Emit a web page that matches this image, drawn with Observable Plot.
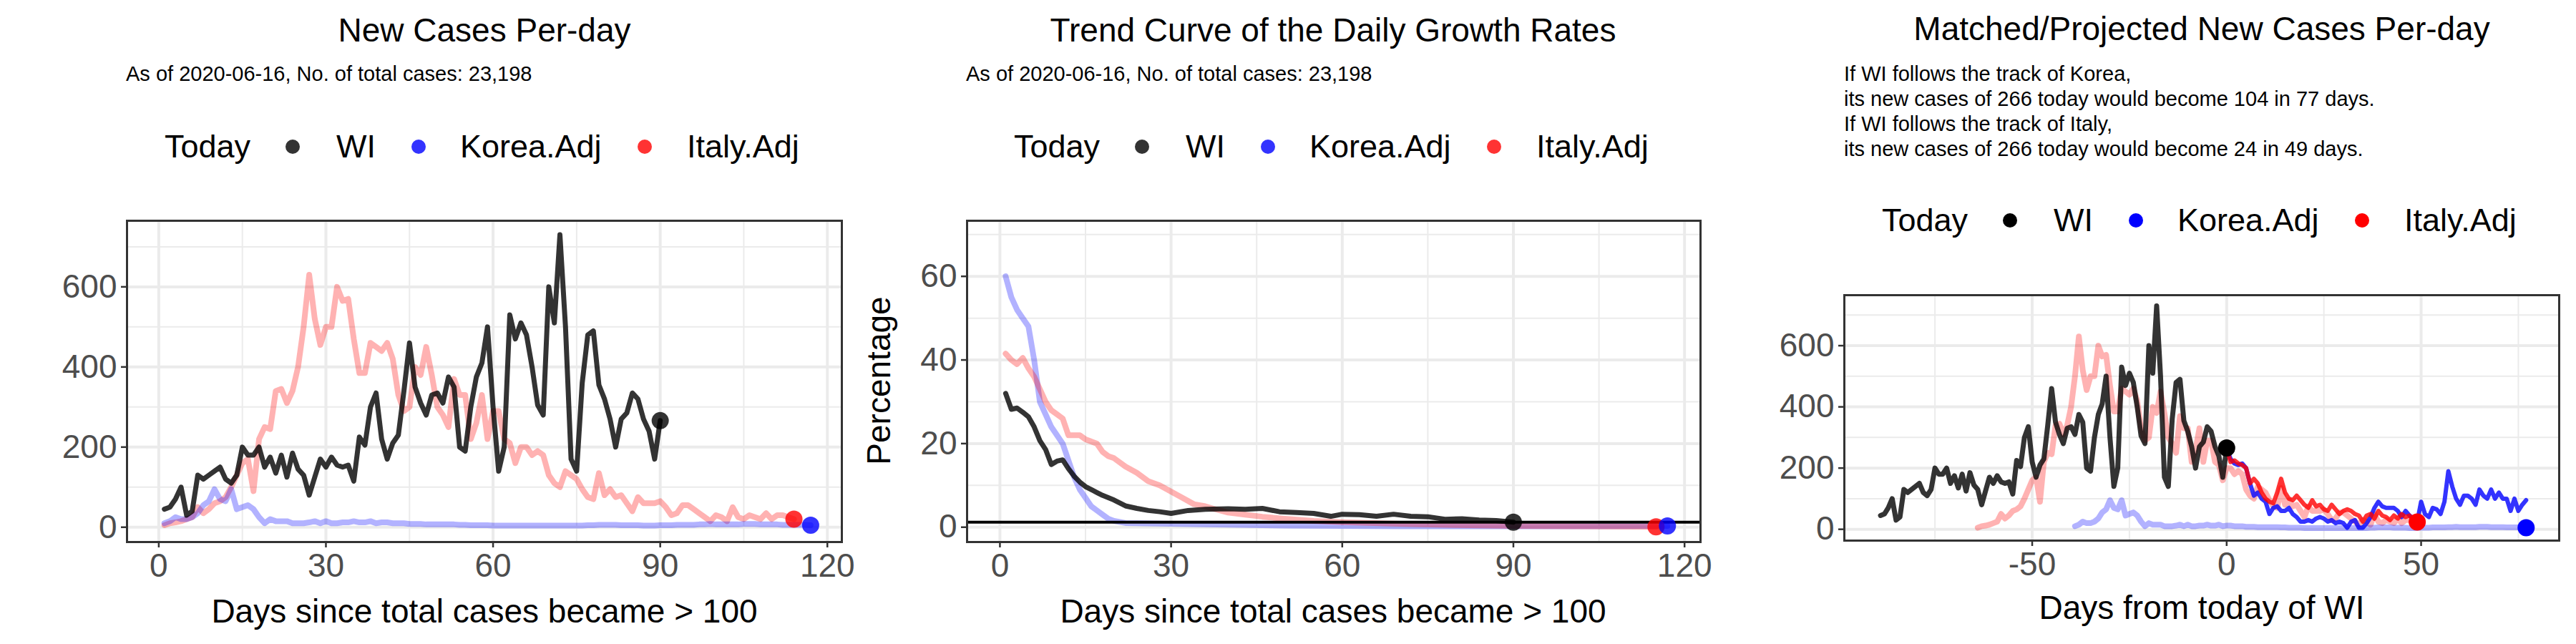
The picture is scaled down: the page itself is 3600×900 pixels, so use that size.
<!DOCTYPE html>
<html>
<head>
<meta charset="utf-8">
<script src="https://cdn.jsdelivr.net/npm/d3@7"></script>
<script src="https://cdn.jsdelivr.net/npm/@observablehq/plot@0.6"></script>
<style>
  body { margin: 0; background: #fff; font-family: "Liberation Sans", Arial, sans-serif; }
  #root { position: relative; width: 3600px; height: 900px; overflow: hidden; }
  .abs { position: absolute; white-space: nowrap; color: #000; }
  .title { font-size: 46px; transform: translate(-50%, -50%); }
  .sub { font-size: 29px; line-height: 35px; }
  .leg { font-size: 45px; transform: translateY(-50%); }
  .dot { position: absolute; width: 20px; height: 20px; border-radius: 50%; transform: translate(-50%, -50%); }
  .axt { font-size: 46px; transform: translate(-50%, -50%); }
  .panel { position: absolute; }
  svg text { fill: #4d4d4d; }
</style>
</head>
<body>
<div id="root"></div>
<script>
// new cases per day, day 1..n since total cases > 100
const wiNew = [45,50,70,100,30,40,130,120,130,140,
  150,120,110,130,200,180,180,200,150,175,
  135,180,125,185,145,130,80,125,170,150,
  175,155,150,155,115,225,205,300,335,220,
  170,210,230,340,460,350,310,280,330,335,
  310,375,350,200,190,300,375,410,500,300,
  140,200,530,470,510,480,400,305,280,600,
  510,730,500,170,140,360,480,490,355,320,
  270,200,270,285,335,320,270,240,170,266];
const italyNew = [5,10,12,15,20,25,50,35,45,60,
  65,75,100,130,160,170,90,220,250,245,
  340,345,310,340,400,500,630,520,455,500,
  500,600,565,570,470,385,385,460,450,440,
  460,420,330,290,300,400,380,450,380,300,
  280,250,370,330,330,220,260,330,220,290,
  290,220,210,160,200,200,180,190,180,130,
  110,100,140,130,120,95,75,70,135,80,
  95,75,80,60,40,75,60,60,60,65,
  50,30,35,55,55,45,35,25,15,30,
  25,15,50,25,20,30,25,20,35,20,
  30,30,25,20];
const koreaNew = [10,15,25,20,20,25,35,55,65,95,
  70,65,95,45,50,55,45,25,10,20,
  15,15,15,10,10,10,12,15,10,15,
  10,10,12,12,15,12,12,15,10,12,
  12,10,10,10,8,8,8,7,7,7,
  7,7,7,6,6,5,5,5,5,4,
  4,4,4,4,4,4,4,4,4,4,
  4,4,4,4,4,4,5,5,6,6,
  6,6,5,5,5,5,4,4,4,5,
  5,5,6,6,6,6,7,7,8,7,
  7,7,7,7,8,8,8,7,7,7,
  7,6,6,6,6,6,5];

// growth rate trend (%)
const wiGrowthDay = [1,2,3,4,5,6,7,8,9,10,11,12,13,14,15,16,17,18,20,22,24,26,28,30,33,36,40,43,46,49,52,55,58,60,63,66,69,72,75,78,81,84,87,90];
const wiGrowth = [32,28.2,28.5,27.5,26.4,24,20.7,18.6,15,15.8,16.1,14,12.2,10.8,9.7,9,8.3,7.6,6.5,5.1,4.5,4,3.7,3.3,4,4.3,4.4,4.3,4.5,3.7,3.5,3.3,2.6,3.1,3,2.6,3.1,2.6,2.5,1.9,2,1.7,1.6,1.2];
const koreaGrowthDay = [1,2,3,4,5,6,7,8,9,10,11,12,13,14,15,16,17,18,19,20,22,30,40,50,60,70,80,90,100,117];
const koreaGrowth = [60,55,52,50,48,40,30,27,24,22,20,16,12,9,7,5,4,3,2,1.5,1,0.8,0.6,0.4,0.3,0.2,0.2,0.2,0.2,0.3];
const italyGrowthDay = [1,2,3,4,5,6,7,8,9,10,11,12,13,14,15,16,17,18,19,20,22,24,26,28,30,32,34,36,38,40,43,46,50,55,60,70,80,90,100,115];
const italyGrowth = [41.5,40,39,40.5,38,36,33,30,28,27,26,22,22,22,21,20.5,20,18,17,16.5,14.5,13,11,10,8.5,7,5.5,5,4.2,3.5,3,2.5,2,1.5,1.2,0.8,0.5,0.3,0.2,0.1];
const wiTodayRate = 1.2;

// projections of WI from today (days 0..n)
const koreaProj = [266,230,215,210,215,200,150,110,120,100,
  90,50,70,75,60,60,70,50,40,25,
  25,30,25,35,40,35,25,30,20,25,
  20,5,25,30,5,5,20,40,70,90,
  75,70,70,70,60,40,60,45,35,25,
  90,50,40,70,65,50,90,190,140,100,
  80,110,110,100,80,130,110,100,130,100,
  120,100,100,60,100,60,80,95];
const italyProj = [266,220,225,215,210,200,150,165,150,120,
  100,90,85,120,165,120,100,95,110,95,
  80,70,95,75,80,65,60,80,65,50,
  60,65,60,50,45,25,45,50,35,60,
  45,40,30,45,35,50,40,45,30,24];

const wiOffset = 90, italyOffset = 65, koreaOffset = 40;

const seriesNames = ["WI", "Korea.Adj", "Italy.Adj"];
const fontFam = '"Liberation Sans", Arial, sans-serif';

const toRows = (vals, shift = 0) => vals.map((v, i) => ({x: i + 1 - shift, y: v}));
const toKnots = (days, vals) => days.map((d, i) => ({x: d, y: vals[i]}));
const last = a => a[a.length - 1];

const root = document.getElementById("root");
function addDiv(cls, left, top, html) {
  const el = document.createElement("div");
  el.className = "abs " + cls;
  el.style.left = left + "px";
  el.style.top = top + "px";
  el.innerHTML = html;
  root.appendChild(el);
  return el;
}
function addLegend(left, top, colors) {
  addDiv("leg", left, top, "Today");
  const dotX = [179, 355, 671], txtX = [240, 413, 730];
  seriesNames.forEach((n, i) => {
    const d = document.createElement("div");
    d.className = "dot";
    d.style.left = (left + dotX[i]) + "px";
    d.style.top = top + "px";
    d.style.background = colors[i];
    root.appendChild(d);
    addDiv("leg", left + txtX[i], top, n);
  });
}
function grid(xMajor, xMinor, yMajor, yMinor) {
  return [
    Plot.ruleX(xMinor, {stroke: "#ebebeb", strokeWidth: 2}),
    Plot.ruleY(yMinor, {stroke: "#ebebeb", strokeWidth: 2}),
    Plot.ruleX(xMajor, {stroke: "#ebebeb", strokeWidth: 4}),
    Plot.ruleY(yMajor, {stroke: "#ebebeb", strokeWidth: 4})
  ];
}
function axes(xTicks, yTicks, xFmt) {
  return [
    Plot.axisX({ticks: xTicks, tickSize: 8, tickPadding: 8, fontSize: 46, label: null, stroke: "#333", strokeWidth: 2.5, tickFormat: xFmt || (d => String(d))}),
    Plot.axisY({ticks: yTicks, tickSize: 8, tickPadding: 6, fontSize: 46, label: null, stroke: "#333", strokeWidth: 2.5, tickFormat: d => String(d)}),
    Plot.frame({stroke: "#333", strokeWidth: 3})
  ];
}
function place(chart, left, top) {
  const p = document.createElement("div");
  p.className = "panel";
  p.style.left = left + "px";
  p.style.top = top + "px";
  p.appendChild(chart);
  root.appendChild(p);
}
const baseStyle = {fontFamily: fontFam, fontSize: "46px", color: "#4d4d4d", background: "transparent"};

// ---------- panel 1 ----------
const wiRows = toRows(wiNew), itRows = toRows(italyNew), krRows = toRows(koreaNew);
const chart1 = Plot.plot({
  width: 1200, height: 650,
  marginLeft: 177, marginRight: 24, marginTop: 58, marginBottom: 143,
  x: {domain: [-5.7, 122.6]},
  y: {domain: [-37, 765]},
  style: baseStyle,
  marks: [
    ...grid([0, 30, 60, 90, 120], [15, 45, 75, 105], [0, 200, 400, 600], [100, 300, 500, 700]),
    Plot.line(itRows, {x: "x", y: "y", stroke: "red", strokeOpacity: 0.3, strokeWidth: 8}),
    Plot.line(krRows, {x: "x", y: "y", stroke: "blue", strokeOpacity: 0.3, strokeWidth: 8}),
    Plot.line(wiRows, {x: "x", y: "y", stroke: "black", strokeOpacity: 0.8, strokeWidth: 7}),
    Plot.dot([last(wiRows)], {x: "x", y: "y", r: 12, fill: "black", fillOpacity: 0.8}),
    Plot.dot([last(itRows)], {x: "x", y: "y", r: 12, fill: "red", fillOpacity: 0.8}),
    Plot.dot([last(krRows)], {x: "x", y: "y", r: 12, fill: "blue", fillOpacity: 0.8}),
    ...axes([0, 30, 60, 90, 120], [0, 200, 400, 600])
  ]
});
place(chart1, 0, 250);
addDiv("title", 677, 42, "New Cases Per-day");
addDiv("sub", 176, 86, "As of 2020-06-16, No. of total cases: 23,198");
addLegend(230, 205, ["rgba(0,0,0,0.8)", "rgba(0,0,255,0.8)", "rgba(255,0,0,0.8)"]);
addDiv("axt", 677, 854, "Days since total cases became &gt; 100");

// ---------- panel 2 ----------
const wiG = toKnots(wiGrowthDay, wiGrowth), krG = toKnots(koreaGrowthDay, koreaGrowth), itG = toKnots(italyGrowthDay, italyGrowth);
const chart2 = Plot.plot({
  width: 1200, height: 650,
  marginLeft: 151, marginRight: 24, marginTop: 58, marginBottom: 143,
  x: {domain: [-5.76, 122.8]},
  y: {domain: [-3.55, 73.3]},
  style: baseStyle,
  marks: [
    ...grid([0, 30, 60, 90, 120], [15, 45, 75, 105], [0, 20, 40, 60], [10, 30, 50, 70]),
    Plot.line(krG, {x: "x", y: "y", stroke: "blue", strokeOpacity: 0.3, strokeWidth: 8}),
    Plot.line(itG, {x: "x", y: "y", stroke: "red", strokeOpacity: 0.3, strokeWidth: 8}),
    Plot.line(wiG, {x: "x", y: "y", stroke: "black", strokeOpacity: 0.8, strokeWidth: 7}),
    Plot.ruleY([wiTodayRate], {stroke: "black", strokeWidth: 4}),
    Plot.dot([last(wiG)], {x: "x", y: "y", r: 12, fill: "black", fillOpacity: 0.8}),
    Plot.dot([last(itG)], {x: "x", y: "y", r: 12, fill: "red", fillOpacity: 0.8}),
    Plot.dot([last(krG)], {x: "x", y: "y", r: 12, fill: "blue", fillOpacity: 0.8}),
    ...axes([0, 30, 60, 90, 120], [0, 20, 40, 60])
  ]
});
place(chart2, 1200, 250);
addDiv("title", 1863, 42, "Trend Curve of the Daily Growth Rates");
addDiv("sub", 1350, 86, "As of 2020-06-16, No. of total cases: 23,198");
addLegend(1417, 205, ["rgba(0,0,0,0.8)", "rgba(0,0,255,0.8)", "rgba(255,0,0,0.8)"]);
addDiv("axt", 1863, 854, "Days since total cases became &gt; 100");
const yl = addDiv("axt", 1228, 532, "Percentage");
yl.style.transform = "translate(-50%, -50%) rotate(-90deg)";

// ---------- panel 3 ----------
const wiS = toRows(wiNew, wiOffset), itS = toRows(italyNew, italyOffset), krS = toRows(koreaNew, koreaOffset);
const krP = koreaProj.map((v, i) => ({x: i, y: v})), itP = italyProj.map((v, i) => ({x: i, y: v}));
const chart3 = Plot.plot({
  width: 1200, height: 520,
  marginLeft: 177, marginRight: 24, marginTop: 32, marginBottom: 145,
  x: {domain: [-98.3, 85.5]},
  y: {domain: [-37, 765]},
  style: baseStyle,
  marks: [
    ...grid([-50, 0, 50], [-75, -25, 25, 75], [0, 200, 400, 600], [100, 300, 500, 700]),
    Plot.line(itS, {x: "x", y: "y", stroke: "red", strokeOpacity: 0.3, strokeWidth: 8}),
    Plot.line(krS, {x: "x", y: "y", stroke: "blue", strokeOpacity: 0.3, strokeWidth: 8}),
    Plot.line(wiS, {x: "x", y: "y", stroke: "black", strokeOpacity: 0.8, strokeWidth: 7}),
    Plot.line(krP, {x: "x", y: "y", stroke: "blue", strokeOpacity: 0.8, strokeWidth: 6}),
    Plot.line(itP, {x: "x", y: "y", stroke: "red", strokeOpacity: 0.8, strokeWidth: 6}),
    Plot.dot([last(wiS)], {x: "x", y: "y", r: 12, fill: "black"}),
    Plot.dot([last(itP)], {x: "x", y: "y", r: 12, fill: "red"}),
    Plot.dot([last(krS)], {x: "x", y: "y", r: 12, fill: "blue"}),
    ...axes([-50, 0, 50], [0, 200, 400, 600])
  ]
});
place(chart3, 2400, 380);
addDiv("title", 3077, 40, "Matched/Projected New Cases Per-day");
addDiv("sub", 2577, 86, "If WI follows the track of Korea,<br>its new cases of 266 today would become 104 in 77 days.<br>If WI follows the track of Italy,<br>its new cases of 266 today would become 24 in 49 days.");
addLegend(2630, 308, ["black", "blue", "red"]);
addDiv("axt", 3077, 849, "Days from today of WI");
</script>
</body>
</html>
